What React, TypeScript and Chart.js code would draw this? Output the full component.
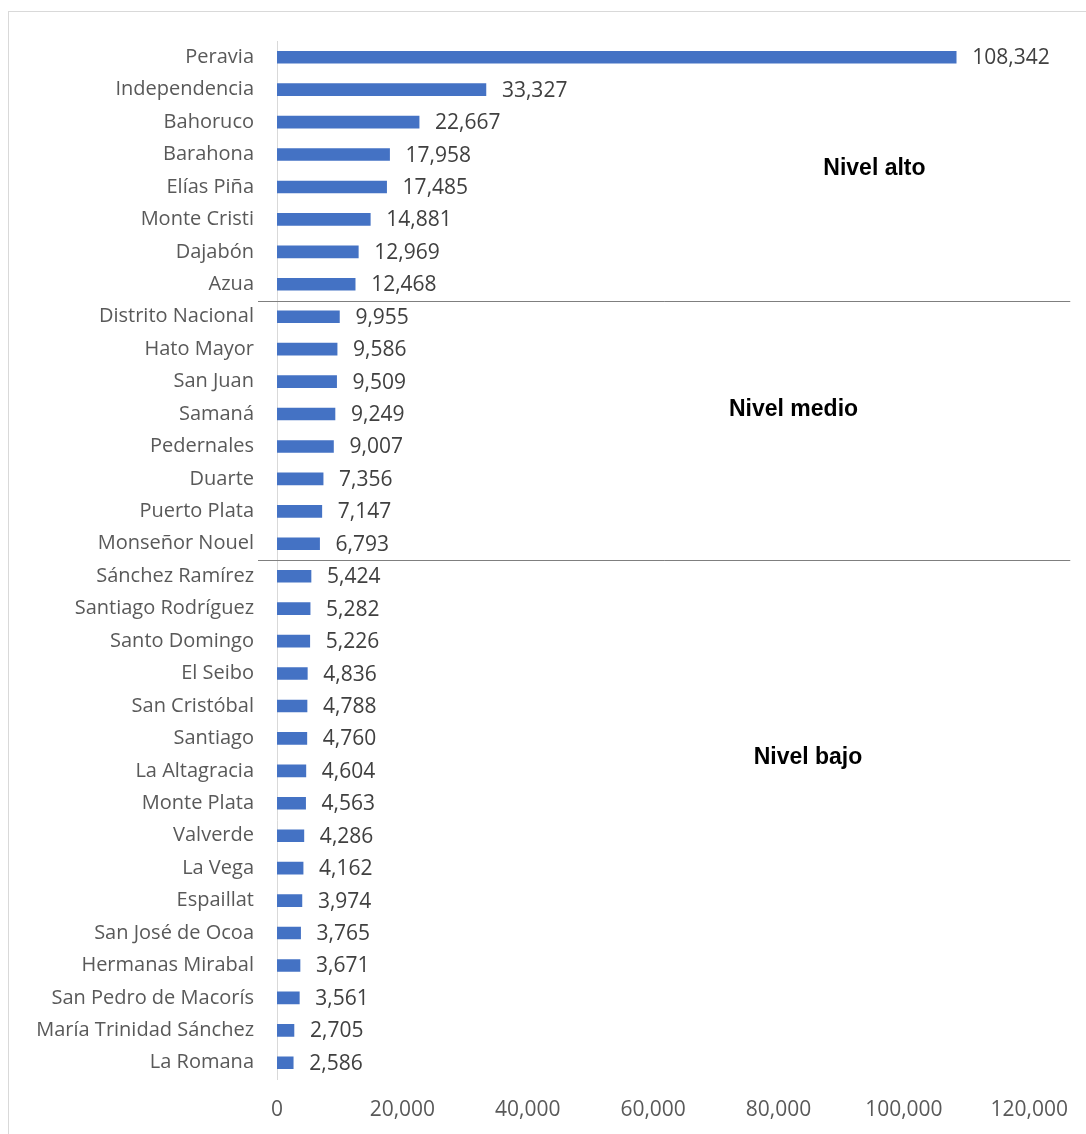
import React, { useEffect, useRef } from "react";
import { Chart, registerables } from "chart.js";

Chart.register(...registerables);

const provinces = [
  "Peravia", "Independencia", "Bahoruco", "Barahona", "Elías Piña", "Monte Cristi", "Dajabón", "Azua",
  "Distrito Nacional", "Hato Mayor", "San Juan", "Samaná", "Pedernales", "Duarte", "Puerto Plata", "Monseñor Nouel",
  "Sánchez Ramírez", "Santiago Rodríguez", "Santo Domingo", "El Seibo", "San Cristóbal", "Santiago", "La Altagracia",
  "Monte Plata", "Valverde", "La Vega", "Espaillat", "San José de Ocoa", "Hermanas Mirabal", "San Pedro de Macorís",
  "María Trinidad Sánchez", "La Romana",
];

const values = [
  108342, 33327, 22667, 17958, 17485, 14881, 12969, 12468,
  9955, 9586, 9509, 9249, 9007, 7356, 7147, 6793,
  5424, 5282, 5226, 4836, 4788, 4760, 4604, 4563, 4286, 4162, 3974, 3765, 3671, 3561, 2705, 2586,
];

const xTicks = [0, 20000, 40000, 60000, 80000, 100000, 120000];

// Group boundaries: index of the first category of each new group
const groupBreaks = [8, 16];

const levelLabels = ["Nivel alto", "Nivel medio", "Nivel bajo"];
const levelX = [95300, 82400, 84700];
const levelY = [3.45, 10.85, 21.6];

const FONT = "'Open Sans', sans-serif";

const fmt = (v: number) => v.toLocaleString("en-US");

const overlayPlugin = {
  id: "overlay",
  afterDatasetsDraw(chart: any) {
    const { ctx, chartArea, scales } = chart;
    const xs = scales.x;
    const ys = scales.y;
    ctx.save();
    // value labels
    ctx.font = `21px ${FONT}`;
    ctx.fillStyle = "#404040";
    ctx.textAlign = "left";
    ctx.textBaseline = "middle";
    const meta = chart.getDatasetMeta(0);
    meta.data.forEach((bar: any, i: number) => {
      ctx.fillText(fmt(values[i]), bar.x + 16, bar.y + 1);
    });
    // group divider lines
    ctx.strokeStyle = "#7f7f7f";
    ctx.lineWidth = 1;
    groupBreaks.forEach((b) => {
      const y = Math.round(ys.getPixelForValue(b - 0.5)) + 0.5;
      ctx.beginPath();
      ctx.moveTo(chartArea.left - 19, y);
      ctx.lineTo(chartArea.right + 41, y);
      ctx.stroke();
    });
    // level annotations
    ctx.font = `bold 23px Arial, 'Liberation Sans', sans-serif`;
    ctx.fillStyle = "#000000";
    ctx.textAlign = "center";
    levelLabels.forEach((t, i) => {
      ctx.fillText(t, xs.getPixelForValue(levelX[i]), ys.getPixelForValue(levelY[i]));
    });
    ctx.restore();
  },
};

export default function App() {
  const ref = useRef<HTMLCanvasElement | null>(null);

  useEffect(() => {
    if (!ref.current) return;
    const chart = new Chart(ref.current, {
      type: "bar",
      data: {
        labels: provinces,
        datasets: [
          {
            data: values,
            backgroundColor: "#4472C4",
            barThickness: 12,
          },
        ],
      },
      options: {
        indexAxis: "y",
        responsive: false,
        animation: false,
        layout: { padding: { top: 41, right: 50, bottom: 0, left: 0 } },
        plugins: {
          legend: { display: false },
          tooltip: { enabled: false },
        },
        scales: {
          x: {
            min: 0,
            max: 120000,
            afterBuildTicks: (axis: any) => {
              axis.ticks = xTicks.map((v) => ({ value: v }));
            },
            afterFit: (axis: any) => {
              axis.height = 55;
            },
            grid: { display: false, drawTicks: false },
            border: { display: false },
            ticks: {
              color: "#595959",
              font: { family: FONT, size: 21 },
              padding: 18,
              maxRotation: 0,
              callback: (v: any) => fmt(Number(v)),
            },
          },
          y: {
            afterFit: (axis: any) => {
              axis.width = 277;
            },
            grid: { display: false, drawTicks: false },
            border: { display: true, color: "#d9d9d9", width: 1 },
            ticks: {
              color: "#595959",
              font: { family: FONT, size: 20 },
              padding: 23,
              autoSkip: false,
            },
          },
        },
      },
      plugins: [overlayPlugin],
    });
    return () => chart.destroy();
  }, []);

  return (
    <div
      style={{
        position: "absolute",
        left: 0,
        top: 0,
        width: 1086,
        height: 1134,
        overflow: "hidden",
        background: "#ffffff",
      }}
    >
      <div
        style={{
          position: "absolute",
          left: 8,
          top: 11,
          width: 1200,
          height: 1300,
          border: "1px solid #d9d9d9",
        }}
      />
      <canvas ref={ref} width={1086} height={1134} style={{ position: "absolute", left: 0, top: 0 }} />
    </div>
  );
}
